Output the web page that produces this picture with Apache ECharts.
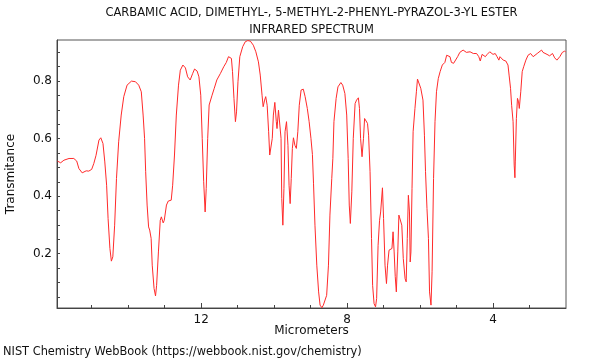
<!DOCTYPE html>
<html>
<head>
<meta charset="utf-8">
<script src="https://cdn.jsdelivr.net/npm/echarts@6/dist/echarts.min.js"></script>
<style>html,body{margin:0;padding:0;background:#fff}#c{width:600px;height:360px}</style>
</head>
<body>
<div id="c"></div>
<script>
var titleLines = ["CARBAMIC ACID, DIMETHYL-, 5-METHYL-2-PHENYL-PYRAZOL-3-YL ESTER", "INFRARED SPECTRUM"];
var xName = "Micrometers";
var yName = "Transmitance";
var footer = "NIST Chemistry WebBook (https://webbook.nist.gov/chemistry)";
var xMajorTicks = [4, 8, 12];
var xMinorTicks = [3, 4, 5, 6, 7, 8, 9, 10, 11, 12, 13, 14, 15];
var yLabelTicks = [0.2, 0.4, 0.6, 0.8];
var yMinorTicks = [0.05, 0.1, 0.15, 0.2, 0.25, 0.3, 0.35, 0.4, 0.45, 0.5, 0.55, 0.6, 0.65, 0.7, 0.75, 0.8, 0.85, 0.9];

var microns = [
15.94,15.85,15.76,15.62,15.49,15.41,15.35,15.26,15.15,15.08,15.00,14.94,14.88,14.80,14.75,14.69,14.64,14.59,14.55,14.50,
14.46,14.42,14.37,14.32,14.26,14.19,14.12,14.03,13.91,13.80,13.71,13.64,13.59,13.55,13.52,13.48,13.44,13.41,13.37,13.34,
13.29,13.25,13.22,13.17,13.12,13.09,13.04,13.01,12.95,12.90,12.82,12.78,12.73,12.68,12.62,12.57,12.50,12.43,12.37,12.30,
12.23,12.18,12.11,12.06,12.01,11.97,11.93,11.89,11.86,11.82,11.78,11.70,11.64,11.57,11.47,11.38,11.31,11.25,11.21,11.17,
11.14,11.10,11.06,11.03,10.99,10.94,10.86,10.79,10.72,10.65,10.57,10.50,10.43,10.38,10.33,10.30,10.26,10.23,10.19,10.15,
10.12,10.09,10.05,10.02,9.98,9.94,9.92,9.88,9.85,9.81,9.79,9.76,9.73,9.70,9.66,9.62,9.59,9.56,9.53,9.50,
9.47,9.43,9.39,9.35,9.31,9.26,9.20,9.15,9.09,9.04,8.99,8.95,8.92,8.88,8.83,8.78,8.74,8.69,8.65,8.60,
8.56,8.51,8.47,8.42,8.39,8.36,8.30,8.25,8.17,8.12,8.06,8.01,7.97,7.94,7.91,7.87,7.83,7.78,7.74,7.69,
7.66,7.63,7.59,7.55,7.52,7.48,7.44,7.41,7.37,7.33,7.30,7.26,7.22,7.19,7.15,7.11,7.08,7.03,7.00,6.96,
6.92,6.89,6.85,6.81,6.77,6.74,6.71,6.68,6.65,6.61,6.58,6.54,6.50,6.46,6.41,6.38,6.35,6.32,6.29,6.27,
6.25,6.22,6.19,6.14,6.10,6.07,6.02,5.98,5.92,5.88,5.85,5.81,5.77,5.74,5.70,5.67,5.63,5.59,5.55,5.50,
5.45,5.39,5.32,5.27,5.23,5.18,5.14,5.08,5.03,4.97,4.91,4.82,4.73,4.63,4.54,4.45,4.39,4.35,4.30,4.27,
4.21,4.16,4.09,4.00,3.94,3.89,3.84,3.81,3.77,3.72,3.65,3.59,3.56,3.52,3.49,3.45,3.42,3.40,3.39,3.36,
3.33,3.30,3.28,3.24,3.20,3.16,3.10,3.04,2.97,2.90,2.85,2.79,2.74,2.67,2.63,2.58,2.52,2.45,2.37,2.31,
2.25,2.17,2.10,2.04,2.01
];
var transmittance = [
0.522,0.516,0.525,0.531,0.531,0.522,0.496,0.481,0.488,0.487,0.493,0.514,0.542,0.595,0.603,0.583,0.519,0.438,0.322,0.218,
0.174,0.189,0.299,0.461,0.589,0.682,0.746,0.786,0.800,0.798,0.786,0.763,0.682,0.601,0.485,0.369,0.293,0.282,0.253,0.160,
0.079,0.053,0.090,0.206,0.316,0.328,0.307,0.316,0.369,0.383,0.386,0.438,0.543,0.682,0.786,0.838,0.856,0.846,0.815,0.804,
0.827,0.842,0.835,0.815,0.751,0.601,0.450,0.345,0.427,0.601,0.717,0.751,0.775,0.804,0.827,0.850,0.865,0.885,0.890,0.879,
0.833,0.740,0.659,0.693,0.798,0.885,0.920,0.937,0.941,0.939,0.925,0.902,0.867,0.821,0.751,0.711,0.734,0.746,0.716,0.624,
0.543,0.537,0.601,0.682,0.726,0.659,0.635,0.699,0.705,0.601,0.392,0.299,0.427,0.624,0.659,0.577,0.438,0.374,0.461,0.566,
0.603,0.577,0.566,0.624,0.716,0.769,0.772,0.746,0.705,0.659,0.601,0.545,0.445,0.299,0.160,0.067,0.021,0.012,0.021,0.023,
0.055,0.160,0.334,0.461,0.531,0.659,0.740,0.780,0.795,0.786,0.757,0.682,0.531,0.369,0.305,0.415,0.601,0.722,0.734,0.742,
0.705,0.601,0.537,0.601,0.670,0.676,0.653,0.612,0.485,0.253,0.090,0.026,0.015,0.044,0.229,0.316,0.345,0.429,0.322,0.160,
0.096,0.160,0.212,0.218,0.218,0.276,0.206,0.120,0.067,0.206,0.334,0.340,0.299,0.183,0.113,0.102,0.253,0.403,0.345,0.171,
0.206,0.427,0.624,0.705,0.763,0.807,0.804,0.775,0.734,0.612,0.485,0.357,0.253,0.067,0.021,0.137,0.461,0.659,0.763,0.809,
0.833,0.856,0.865,0.890,0.896,0.885,0.865,0.862,0.867,0.885,0.900,0.908,0.900,0.902,0.896,0.896,0.885,0.870,0.893,0.896,
0.885,0.893,0.902,0.893,0.896,0.885,0.873,0.885,0.888,0.873,0.870,0.856,0.821,0.775,0.716,0.659,0.508,0.464,0.519,0.670,
0.740,0.728,0.705,0.763,0.833,0.850,0.873,0.890,0.896,0.885,0.881,0.896,0.902,0.908,0.900,0.904,0.893,0.888,0.896,0.881,
0.873,0.885,0.900,0.904,0.902
];

var FONT = "DejaVu Sans";
var TXT = "#111";
var X_MIN = 2.0, X_MAX = 15.95, Y_MIN = 0.011, Y_MAX = 0.943;

var chart = echarts.init(document.getElementById('c'), null, {renderer: 'canvas'});
var pairs = microns.map(function (m, i) { return [m, transmittance[i]]; });

chart.setOption({
  animation: false,
  backgroundColor: '#fff',
  grid: {left: 57, right: 34, top: 40, bottom: 52, show: true, borderColor: '#555', borderWidth: 1, backgroundColor: 'transparent'},
  xAxis: [{
    type: 'value', inverse: true, min: X_MIN, max: X_MAX,
    axisLine: {show: true, onZero: false, lineStyle: {color: '#444', width: 1}},
    splitLine: {show: false},
    axisTick: {show: true, inside: true, length: 3, customValues: xMinorTicks, lineStyle: {color: '#444'}},
    axisLabel: {show: true, customValues: xMajorTicks, fontFamily: FONT, fontSize: 12, color: TXT, margin: 6}
  }, {
    type: 'value', inverse: true, min: X_MIN, max: X_MAX, position: 'bottom',
    axisLine: {show: false, onZero: false},
    splitLine: {show: false},
    axisTick: {show: true, inside: true, length: 5, customValues: xMajorTicks, lineStyle: {color: '#444'}},
    axisLabel: {show: false}
  }],
  yAxis: {
    type: 'value', min: Y_MIN, max: Y_MAX,
    axisLine: {show: true, onZero: false, lineStyle: {color: '#444', width: 1}},
    splitLine: {show: false},
    axisTick: {show: true, inside: true, length: 3, customValues: yMinorTicks, lineStyle: {color: '#444'}},
    axisLabel: {show: true, customValues: yLabelTicks, fontFamily: FONT, fontSize: 12, color: TXT, margin: 5,
      formatter: function (v) { return v.toFixed(1); }}
  },
  series: [{
    type: 'line', xAxisIndex: 0, data: pairs, showSymbol: false, symbol: 'none',
    lineStyle: {color: '#ff2a2a', width: 1}, clip: true, silent: true
  }],
  graphic: [
    {type: 'text', x: 311.5, y: 13, style: {text: titleLines[0], font: '11.5px "DejaVu Sans"', fill: TXT, textAlign: 'center', textVerticalAlign: 'middle'}},
    {type: 'text', x: 311.5, y: 30, style: {text: titleLines[1], font: '11.5px "DejaVu Sans"', fill: TXT, textAlign: 'center', textVerticalAlign: 'middle'}},
    {type: 'text', x: 311.5, y: 331, style: {text: xName, font: '12px "DejaVu Sans"', fill: TXT, textAlign: 'center', textVerticalAlign: 'middle'}},
    {type: 'text', x: 11, y: 174, rotation: Math.PI / 2, style: {text: yName, font: '12px "DejaVu Sans"', fill: TXT, textAlign: 'center', textVerticalAlign: 'middle'}},
    {type: 'text', x: 3, y: 352, style: {text: footer, font: '11.4px "DejaVu Sans"', fill: TXT, textAlign: 'left', textVerticalAlign: 'middle'}}
  ]
});
</script>
</body>
</html>
